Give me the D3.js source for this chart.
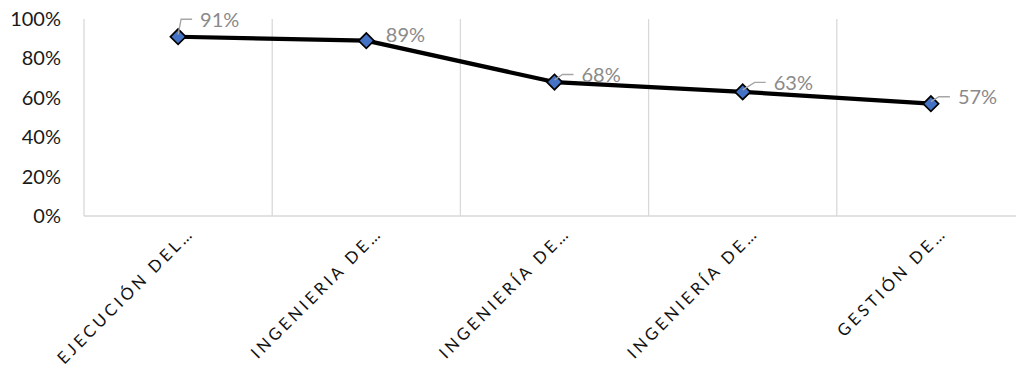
<!DOCTYPE html>
<html>
<head>
<meta charset="utf-8">
<script src="https://cdn.jsdelivr.net/npm/d3@7"></script>
<style>
  html, body { margin: 0; padding: 0; background: #fff; }
  svg { display: block; }
</style>
</head>
<body>
<svg id="chart" width="1016" height="368"></svg>
<script>
// Categories (truncated names as shown on the axis)
const categories = [
  "EJECUCIÓN DEL…",
  "INGENIERIA DE…",
  "INGENIERÍA DE…",
  "INGENIERÍA DE…",
  "GESTIÓN DE…"
];
// Compliance percentage per category
const values = [0.91, 0.89, 0.68, 0.63, 0.57];
// Y axis ticks
const yTicks = [0, 0.2, 0.4, 0.6, 0.8, 1.0];

// Label placement relative to each point: [dx to label left, dy to label baseline, leader?]
const labelLayout = [
  [22, -10, true],
  [19.5, 1.5, false],
  [27, 0, true],
  [31, -2, true],
  [27, 0.5, true]
];

(function draw() {
  const svg = d3.select("#chart");
  const plotLeft = 84, plotTop = 19, plotBottom = 216, step = 188.2;
  const x = d3.scaleBand().domain(d3.range(categories.length))
    .range([plotLeft, plotLeft + step * categories.length]).padding(0);
  const y = d3.scaleLinear().domain([0, 1]).range([plotBottom, plotTop]);
  const fmt = d3.format(".0%");
  const font = "Lato, 'Open Sans', sans-serif";

  // Vertical gridlines between categories
  const gridX = d3.range(categories.length + 1).map(i => plotLeft + step * i);
  svg.append("g").selectAll("line").data(gridX).join("line")
    .attr("x1", d => d).attr("x2", d => d)
    .attr("y1", y(1)).attr("y2", y(0))
    .attr("stroke", "#d9d9d9").attr("stroke-width", 1.3);

  // Category axis line
  svg.append("line")
    .attr("x1", plotLeft).attr("x2", plotLeft + step * categories.length)
    .attr("y1", y(0)).attr("y2", y(0))
    .attr("stroke", "#d9d9d9").attr("stroke-width", 1.3);

  // Y axis labels
  const yAxis = d3.axisLeft(y).tickValues(yTicks).tickFormat(fmt).tickSize(0).tickPadding(0);
  const gy = svg.append("g").attr("transform", `translate(${plotLeft - 23},0)`).call(yAxis);
  gy.select(".domain").remove();
  gy.selectAll("text")
    .attr("font-family", font).attr("font-size", 20).attr("fill", "#1a1a1a");

  // Category labels, rotated
  svg.append("g").selectAll("text").data(categories).join("text")
    .attr("transform", (d, i) => `translate(${x(i) + x.bandwidth() / 2 + 17},${plotBottom + 18}) rotate(-45)`)
    .attr("text-anchor", "end")
    .attr("font-family", font).attr("font-size", 16.5)
    .attr("letter-spacing", 3.4)
    .attr("fill", "#111")
    .text(d => d);

  // Series line
  const pts = values.map((v, i) => [x(i) + x.bandwidth() / 2, y(v)]);
  svg.append("path")
    .attr("d", d3.line()(pts))
    .attr("fill", "none").attr("stroke", "#000").attr("stroke-width", 4.2)
    .attr("stroke-linejoin", "round");

  // Diamond markers
  const diamond = d3.symbol().type(d3.symbolSquare).size(118);
  svg.append("g").selectAll("path").data(pts).join("path")
    .attr("transform", d => `translate(${d[0]},${d[1]}) rotate(45)`)
    .attr("d", diamond)
    .attr("fill", "#4472c4").attr("stroke", "#000").attr("stroke-width", 1.7);

  // Data labels with leader lines
  const lg = svg.append("g");
  values.forEach((v, i) => {
    const [px, py] = pts[i];
    const [dx, dy, leader] = labelLayout[i];
    const lx = px + dx, ly = py + dy;
    if (leader) {
      const my = ly - 7.5;
      lg.append("path")
        .attr("d", d3.line()([[px, py - 2], [lx - 19, my], [lx - 8, my]]))
        .attr("fill", "none").attr("stroke", "#a6a6a6").attr("stroke-width", 1.4);
    }
    lg.append("text")
      .attr("x", lx).attr("y", ly)
      .attr("font-family", font).attr("font-size", 20)
      .attr("fill", "#8a8a8a")
      .text(fmt(v));
  });
})();
</script>
</body>
</html>
